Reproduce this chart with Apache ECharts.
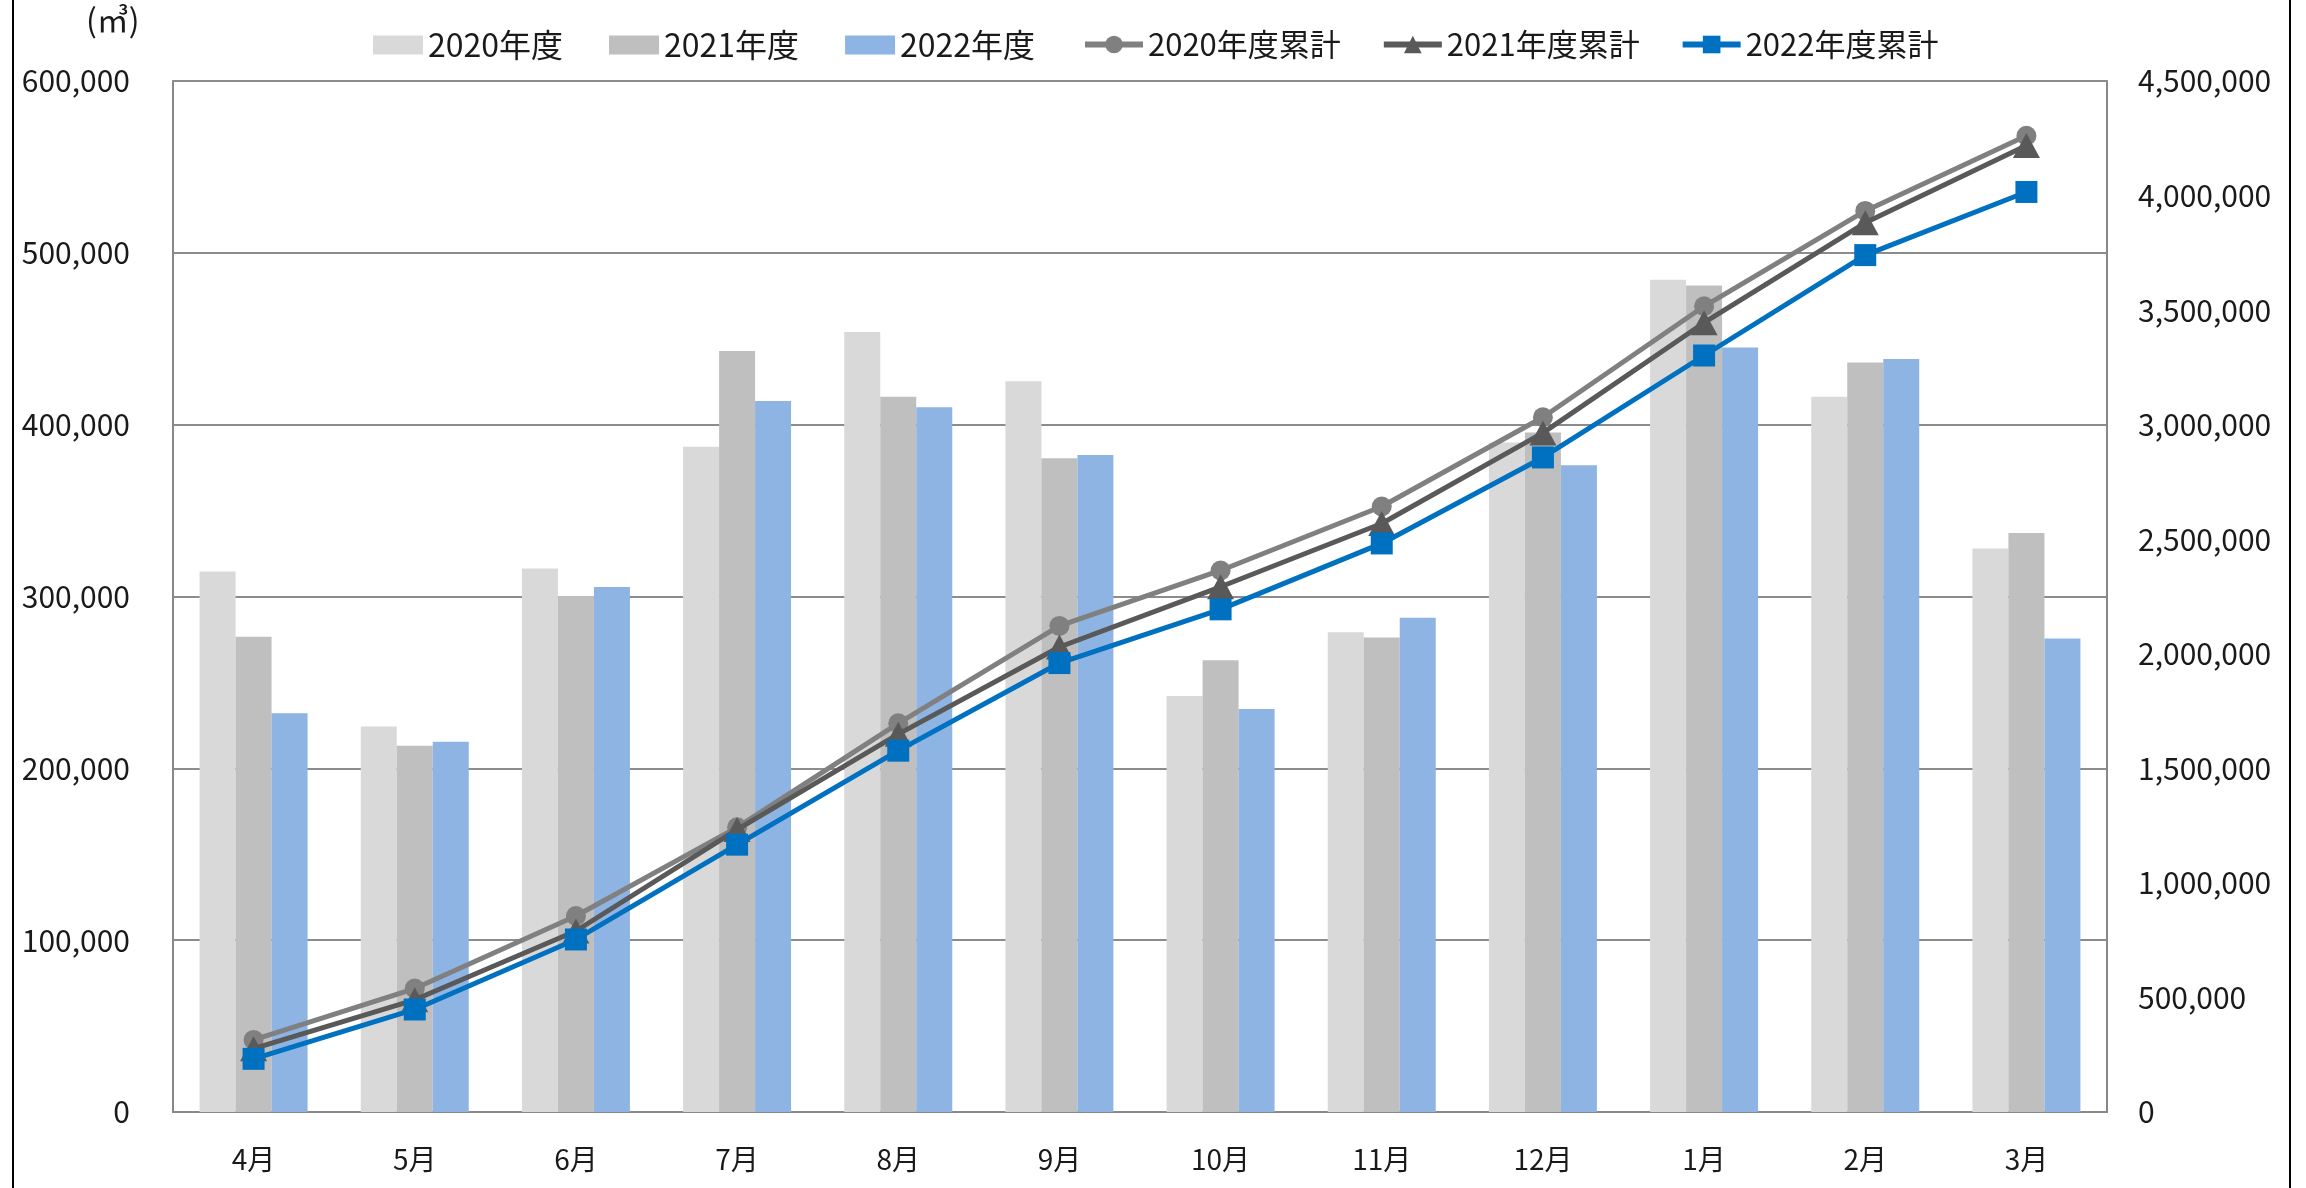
<!DOCTYPE html>
<html>
<head>
<meta charset="utf-8">
<script src="https://cdn.jsdelivr.net/npm/echarts@6/dist/echarts.min.js"></script>
<style>
html,body{margin:0;padding:0;background:#fff;}
#chart{width:2306px;height:1188px;}
</style>
</head>
<body>
<div id="chart"></div>
<script>
const categories = ['4月','5月','6月','7月','8月','9月','10月','11月','12月','1月','2月','3月'];
const vol2020 = [314600, 224400, 316300, 387100, 453900, 425200, 242100, 279200, 389600, 484300, 416200, 328000];
const vol2021 = [276600, 213100, 300300, 442900, 416200, 380400, 262900, 276200, 395400, 481000, 436200, 337000];
const vol2022 = [232100, 215400, 305600, 413800, 410200, 382400, 234500, 287600, 376400, 444900, 438200, 275600];
const cum2020 = [314600, 539000, 855300, 1242400, 1696300, 2121500, 2363600, 2642800, 3032400, 3516700, 3932900, 4260900];
const cum2021 = [276600, 489700, 790000, 1232900, 1649100, 2029500, 2292400, 2568600, 2964000, 3445000, 3881200, 4218200];
const cum2022 = [232100, 447500, 753100, 1166900, 1577100, 1959500, 2194000, 2481600, 2857000, 3301900, 3740100, 4015700];
const seriesNames = ['2020年度','2021年度','2022年度','2020年度累計','2021年度累計','2022年度累計'];
const unitLabel = '(㎥)';

const FONT = '"Noto Sans CJK JP", "Noto Sans", sans-serif';
const TXT = '#1a1a1a';
const fmt = v => String(v).replace(/\B(?=(\d{3})+(?!\d))/g, ',');

const chart = echarts.init(document.getElementById('chart'), null, {renderer: 'canvas'});
const barColors = ['#D9D9D9', '#BFBFBF', '#8EB4E3'];
const lineColors = ['#808080', '#595959', '#0070C0'];
const symbols = ['circle', 'triangle', 'rect'];
const symbolSizes = [20, [27, 25], 22];
const vols = [vol2020, vol2021, vol2022];
const cums = [cum2020, cum2021, cum2022];

const series = [];
for (let i = 0; i < 3; i++) {
  series.push({
    name: seriesNames[i], type: 'bar', yAxisIndex: 0,
    data: vols[i], barWidth: 36, barGap: '0%',
    itemStyle: {color: barColors[i]}, z: 2
  });
}
for (let i = 0; i < 3; i++) {
  series.push({
    name: seriesNames[3 + i], type: 'line', yAxisIndex: 1,
    data: cums[i], symbol: symbols[i], symbolSize: symbolSizes[i],
    showAllSymbol: true,
    lineStyle: {color: lineColors[i], width: 5},
    itemStyle: {color: lineColors[i]}, z: 3 + i
  });
}

chart.setOption({
  animation: false,
  backgroundColor: '#fff',
  textStyle: {fontFamily: FONT, color: TXT},
  grid: {left: 173, right: 199, top: 81, bottom: 76, containLabel: false},
  legend: [
    {
      data: seriesNames.slice(0, 3), left: 368, top: 24,
      itemWidth: 50, itemHeight: 19, itemGap: 46,
      textStyle: {fontSize: 32, color: TXT, fontFamily: FONT},
      icon: 'rect'
    },
    {
      data: seriesNames.slice(3), left: 1077, top: 24,
      itemWidth: 58, itemHeight: 22, itemGap: 40,
      lineStyle: {width: 6},
      textStyle: {fontSize: 31, color: TXT, fontFamily: FONT}
    }
  ],
  xAxis: {
    type: 'category', data: categories,
    axisLine: {show: true, lineStyle: {color: '#898989', width: 2}},
    axisTick: {show: false},
    axisLabel: {fontSize: 28, color: TXT, margin: 33, fontFamily: FONT}
  },
  yAxis: [
    {
      type: 'value', min: 0, max: 600000, interval: 100000,
      axisLine: {show: true, lineStyle: {color: '#898989', width: 2}},
      axisTick: {show: false},
      splitLine: {show: true, lineStyle: {color: '#8c8c8c', width: 2}},
      axisLabel: {fontSize: 30, color: TXT, margin: 43, formatter: fmt, fontFamily: FONT}
    },
    {
      type: 'value', min: 0, max: 4500000, interval: 500000,
      axisLine: {show: true, lineStyle: {color: '#898989', width: 2}},
      axisTick: {show: false},
      splitLine: {show: false},
      axisLabel: {fontSize: 30, color: TXT, margin: 31, formatter: fmt, align: 'left', fontFamily: FONT}
    }
  ],
  graphic: [
    {type: 'text', left: 86, top: 4, style: {text: unitLabel, fontSize: 32, fill: TXT, fontFamily: FONT}},
    {type: 'line', shape: {x1: 13, y1: 0, x2: 13, y2: 1188}, style: {stroke: '#000', lineWidth: 2}},
    {type: 'line', shape: {x1: 2290, y1: 0, x2: 2290, y2: 1188}, style: {stroke: '#000', lineWidth: 2}}
  ],
  series: series
});
</script>
</body>
</html>
